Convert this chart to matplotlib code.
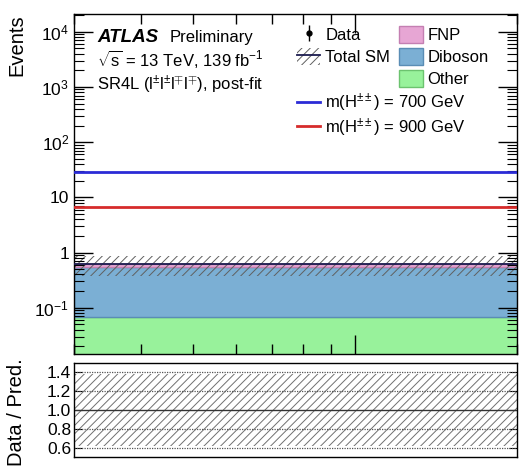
import numpy as np
import matplotlib
matplotlib.use("Agg")
import matplotlib.pyplot as plt
from matplotlib.patches import Patch
from matplotlib.lines import Line2D
from matplotlib.ticker import FixedLocator, FixedFormatter, LogLocator, NullFormatter, NullLocator

plt.rcParams['font.family'] = ['Liberation Sans', 'DejaVu Sans']
plt.rcParams['mathtext.fontset'] = 'custom'
plt.rcParams['mathtext.rm'] = 'Liberation Sans'
plt.rcParams['mathtext.it'] = 'Liberation Sans:italic'
plt.rcParams['mathtext.bf'] = 'Liberation Sans:bold'
plt.rcParams['hatch.linewidth'] = 0.7

# ---- data ----
bin_edges = [0.3, 2.0]
xmajor_ticks = [1.0]
xminor_ticks = [0.3, 0.4, 0.5, 0.6, 0.7, 0.8, 0.9, 2.0]
bkg_names = ["Other", "Diboson", "FNP"]
bkg_values = [0.068, 0.475, 0.072]
bkg_colors = ["#98f29b", "#7bafd4", "#e7a6d4"]
bkg_edges = ["#6cc36f", "#5a8db5", "#c47fb2"]
total_rel_unc = 0.38
sig_labels = [r"m(H$^{\pm\pm}$) = 700 GeV", r"m(H$^{\pm\pm}$) = 900 GeV"]
sig_values = [29.0, 6.6]
sig_colors = ["#2b2bd6", "#d62b2b"]
ratio_ticks = [0.6, 0.8, 1.0, 1.2, 1.4]
ytick_vals = [1e-1, 1, 10, 1e2, 1e3, 1e4]
ytick_labels = [r"$10^{-1}$", "1", "10", r"$10^{2}$", r"$10^{3}$", r"$10^{4}$"]

W, H = 522, 475
fig = plt.figure(figsize=(W/100, H/100), dpi=100)
def fx(px): return px / W
def fy(py): return 1 - py / H

ax = fig.add_axes([fx(74), fy(354), fx(517) - fx(74), fy(14) - fy(354)])
rax = fig.add_axes([fx(74), fy(457), fx(517) - fx(74), fy(363) - fy(457)])

x0, x1 = bin_edges
ax.set_xscale('log')
ax.set_yscale('log')
# stacked backgrounds
bottom = 0.0
for v, c, ec in zip(bkg_values, bkg_colors, bkg_edges):
    ax.fill_between([x0, x1], [bottom, bottom], [bottom + v, bottom + v],
                    facecolor=c, edgecolor=ec, linewidth=1.0, zorder=1)
    bottom += v
total = bottom
ax.fill_between([x0, x1], [total*(1-total_rel_unc)]*2, [total*(1+total_rel_unc)]*2,
                facecolor='none', edgecolor='#606060', hatch='////', linewidth=0, zorder=2)
ax.plot([x0, x1], [total, total], color='#1b1b4f', lw=1.3, zorder=3)
for v, c in zip(sig_values, sig_colors):
    ax.plot([x0, x1], [v, v], color=c, lw=2.0, zorder=3)

ax.set_xlim(x0, x1)
ax.set_ylim(0.0145, 2.1e4)
ax.xaxis.set_major_locator(FixedLocator(xmajor_ticks))
ax.xaxis.set_minor_locator(FixedLocator(xminor_ticks))
ax.yaxis.set_major_locator(FixedLocator(ytick_vals))
ax.yaxis.set_major_formatter(FixedFormatter(ytick_labels))
ax.yaxis.set_minor_locator(LogLocator(base=10, subs=np.arange(2, 10), numticks=20))
ax.yaxis.set_minor_formatter(NullFormatter())
ax.xaxis.set_major_formatter(NullFormatter())
ax.xaxis.set_minor_formatter(NullFormatter())
ax.tick_params(which='both', direction='in', top=True, right=True, labelsize=12.5)
ax.tick_params(which='major', length=14, width=1.0)
ax.tick_params(which='minor', length=7, width=0.8)
ax.tick_params(axis='x', which='minor', length=7, width=1.0, color='k', bottom=True, top=True)
ax.set_ylabel("Events", loc='top', fontsize=14.5)
ax.yaxis.set_label_coords(-0.108, 1.0)
ax.set_axisbelow(False)
for s in ax.spines.values():
    s.set_linewidth(1.0)

# ratio panel
rax.set_xscale('log')
rax.fill_between([x0, x1], [1-total_rel_unc]*2, [1+total_rel_unc]*2,
                 facecolor='none', edgecolor='#707070', hatch='////', linewidth=0, zorder=1)
for t in ratio_ticks:
    if t == 1.0:
        rax.axhline(t, color='#333333', lw=1.0, zorder=2)
    else:
        rax.axhline(t, color='#555555', lw=0.9, ls=(0, (1, 1)), zorder=2)
rax.set_xlim(x0, x1)
rax.set_ylim(0.5, 1.5)
rax.set_yticks(ratio_ticks)
rax.set_yticklabels([f"{t:.1f}" for t in ratio_ticks])
rax.xaxis.set_major_locator(NullLocator())
rax.xaxis.set_minor_locator(NullLocator())
rax.yaxis.set_minor_locator(NullLocator())
rax.tick_params(which='both', direction='in', right=True, labelsize=12.5, length=6, pad=2)
rax.set_ylabel("Data / Pred.", fontsize=14.5)
rax.yaxis.set_label_coords(-0.108, 0.48)
for s in rax.spines.values():
    s.set_linewidth(1.0)

# texts
fig.text(fx(97), fy(42), "ATLAS", fontsize=13.5, fontweight='bold', fontstyle='italic', va='baseline')
fig.text(fx(170), fy(42), "Preliminary", fontsize=12, va='baseline')
fig.text(fx(97), fy(66), r"$\sqrt{\mathrm{s}}$ = 13 TeV, 139 fb$^{-1}$", fontsize=12, va='baseline')
fig.text(fx(97), fy(90), r"SR4L (l$^{\pm}$l$^{\pm}$l$^{\mp}$l$^{\mp}$), post-fit", fontsize=12, va='baseline')

# legends
data_h = ax.errorbar([np.nan], [np.nan], yerr=[np.nan], fmt='o', color='k', ms=3.5, lw=1)
tot_h = (Patch(facecolor='none', edgecolor='#606060', hatch='////', linewidth=0),
         Line2D([], [], color='#1b1b4f', lw=1.3))
blank = Patch(facecolor='none', edgecolor='none')
handles = [data_h, tot_h, blank,
           Patch(facecolor=bkg_colors[2], edgecolor=bkg_edges[2]),
           Patch(facecolor=bkg_colors[1], edgecolor=bkg_edges[1]),
           Patch(facecolor=bkg_colors[0], edgecolor=bkg_edges[0])]
labels = ["Data", "Total SM", "", "FNP", "Diboson", "Other"]
leg1 = ax.legend(handles, labels, ncol=2, loc='upper left',
                 bbox_to_anchor=(fx(297), fy(26)), bbox_transform=fig.transFigure,
                 frameon=False, fontsize=12, handlelength=1.4, handleheight=1.2,
                 handletextpad=0.3, columnspacing=0.55, labelspacing=0.3,
                 borderpad=0, borderaxespad=0)
ax.add_artist(leg1)
sig_h = [Line2D([], [], color=c, lw=2.0) for c in sig_colors]
ax.legend(sig_h, sig_labels, loc='upper left',
          bbox_to_anchor=(fx(297), fy(92)), bbox_transform=fig.transFigure,
          frameon=False, fontsize=12, handlelength=1.4, handleheight=1.0,
          handletextpad=0.3, labelspacing=0.12, borderpad=0, borderaxespad=0)

fig.savefig("out.png", dpi=100)
